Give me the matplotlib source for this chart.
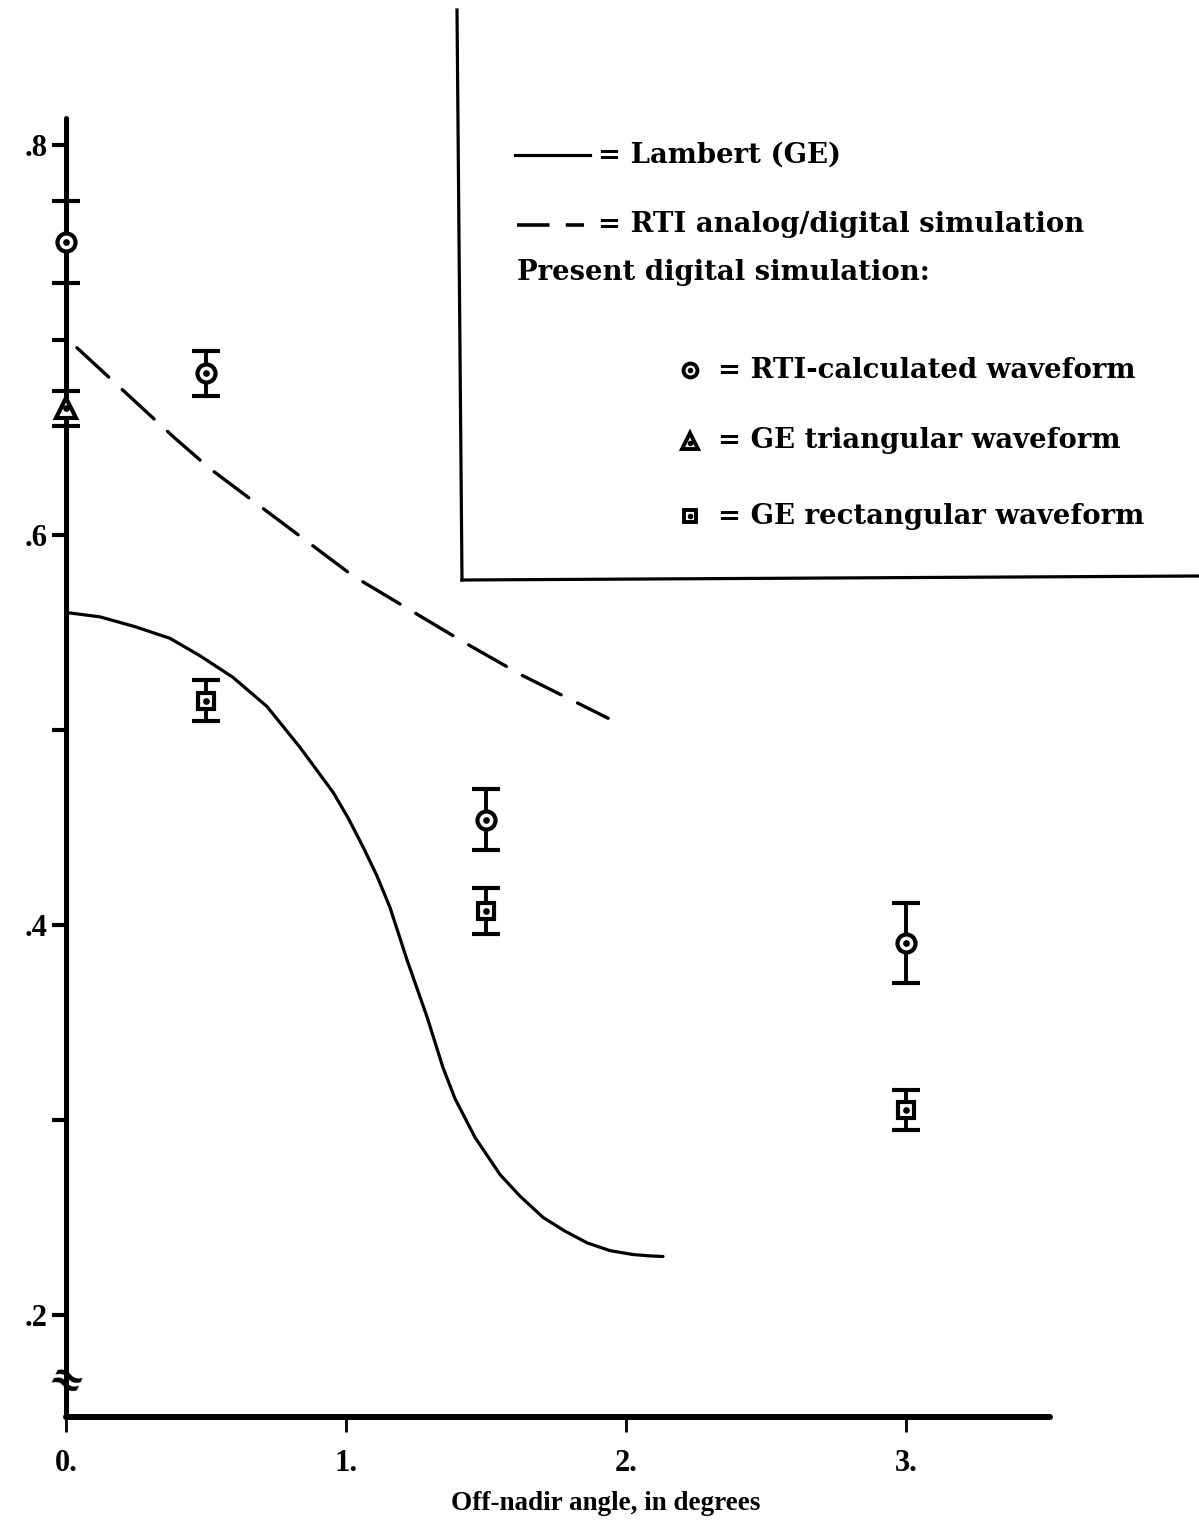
import numpy as np
import matplotlib
matplotlib.use("Agg")
import matplotlib.pyplot as plt
from matplotlib.lines import Line2D

# ---- data ---------------------------------------------------------------
lambert_x = [0.014, 0.121, 0.246, 0.371, 0.479, 0.596, 0.718, 0.836, 0.954,
             1.007, 1.061, 1.111, 1.157, 1.218, 1.289, 1.346, 1.389, 1.461,
             1.550, 1.621, 1.704, 1.782, 1.861, 1.943, 2.025, 2.086, 2.132]
lambert_y = [0.560, 0.558, 0.553, 0.547, 0.538, 0.527, 0.512, 0.491, 0.468,
             0.455, 0.440, 0.425, 0.409, 0.382, 0.353, 0.327, 0.311, 0.291,
             0.272, 0.261, 0.250, 0.243, 0.237, 0.233, 0.231, 0.2303, 0.230]

rti_sim_x = [0.039, 0.386, 0.514, 1.025, 1.421, 1.629, 1.936]
rti_sim_y = [0.696, 0.650, 0.634, 0.579, 0.545, 0.528, 0.506]

rti_calc_x = [0.0, 0.5, 1.5, 3.0]
rti_calc_y = [0.750, 0.683, 0.454, 0.391]
rti_calc_err = [0.021, 0.0115, 0.0155, 0.0205]

ge_tri_x = [0.0]
ge_tri_y = [0.665]
ge_tri_err = [0.009]

ge_rect_x = [0.5, 1.5, 3.0]
ge_rect_y = [0.515, 0.407, 0.305]
ge_rect_err = [0.0105, 0.0118, 0.0103]

y_ticks = [0.2, 0.3, 0.4, 0.5, 0.6, 0.7, 0.8]
y_ticklabels = [".2", "", ".4", "", ".6", "", ".8"]
x_ticks = [0, 1, 2, 3]
x_ticklabels = ["0.", "1.", "2.", "3."]

W, H = 1199, 1525
SERIF = "DejaVu Serif"
TICKFONT = "Liberation Serif"


def fx(px):
    return px / W


def fy(py):
    return 1 - py / H


fig = plt.figure(figsize=(W / 100, H / 100), dpi=100)
ax = fig.add_axes([fx(66), fy(1417), 984 / W, 1299 / H])
ax.set_xlim(0, 3.514)
ax.set_ylim(0.1477, 0.8138)

for s in ("top", "right"):
    ax.spines[s].set_visible(False)
ax.spines["left"].set_linewidth(3.6)
ax.spines["bottom"].set_linewidth(4.3)
ax.spines["left"].set_capstyle("round")
ax.spines["bottom"].set_capstyle("round")

ax.set_yticks(y_ticks)
ax.set_yticklabels(y_ticklabels, fontsize=22, fontweight="bold", family=TICKFONT)
ax.set_xticks(x_ticks)
ax.set_xticklabels(x_ticklabels, fontsize=22, fontweight="bold", family=TICKFONT)
ax.tick_params(axis="y", direction="out", length=10, width=3, pad=3)
ax.tick_params(axis="x", direction="out", length=11, width=2, pad=12)

ax.set_xlabel("Off-nadir angle, in degrees", fontsize=19.5, fontweight="bold",
              family=TICKFONT)
ax.xaxis.set_label_coords(540 / 984, -(1503 - 1417) / 1299)
ax.xaxis.label.set_va("center")

# curves
ax.plot(lambert_x, lambert_y, color="black", lw=2.3, solid_capstyle="round",
        solid_joinstyle="round", zorder=2)
ax.plot(rti_sim_x, rti_sim_y, color="black", lw=2.4, dashes=(13, 5.5),
        dash_capstyle="round", zorder=2)

# data points with error bars
eb_kw = dict(ls="none", color="black", ecolor="black", elinewidth=2.8,
             capsize=10, capthick=3.2, mfc="white", mec="black", mew=3.0,
             zorder=4, clip_on=False)
ax.errorbar(rti_calc_x, rti_calc_y, yerr=rti_calc_err, fmt="o", ms=13, **eb_kw)
ax.errorbar(ge_tri_x, ge_tri_y, yerr=ge_tri_err, fmt="^", ms=14, **eb_kw)
ax.errorbar(ge_rect_x, ge_rect_y, yerr=ge_rect_err, fmt="s", ms=11.5, **eb_kw)
# centre dots
ax.plot(rti_calc_x + ge_tri_x + ge_rect_x, rti_calc_y + ge_tri_y + ge_rect_y,
        ls="none", marker="o", ms=3.8, color="black", zorder=5, clip_on=False)

# axis break mark
ax.text(0, 0.1656, "≈", fontsize=30, fontweight="bold", ha="center",
        va="center", rotation=-25, family="DejaVu Sans", zorder=6)

# ---- legend box (drawn by hand, as in the original) ---------------------
fig.add_artist(Line2D([fx(457), fx(462)], [fy(10), fy(580)], color="black",
                      lw=2.3))
fig.add_artist(Line2D([fx(462), fx(1199)], [fy(580), fy(576)], color="black",
                      lw=2.3))

fig.add_artist(Line2D([fx(515), fx(590)], [fy(155), fy(155)], color="black",
                      lw=2.3))
fig.add_artist(Line2D([fx(517), fx(584)], [fy(225), fy(225)], color="black",
                      lw=2.6, dashes=(9, 4.5)))

mk_kw = dict(color="black", mfc="white", mec="black", ls="none")
fig.add_artist(Line2D([fx(690)], [fy(370)], marker="o", ms=10, mew=2.8, **mk_kw))
fig.add_artist(Line2D([fx(690)], [fy(441)], marker="^", ms=12, mew=2.8, **mk_kw))
fig.add_artist(Line2D([fx(690)], [fy(516)], marker="s", ms=9, mew=2.8, **mk_kw))
for py in (370, 443, 516):
    fig.add_artist(Line2D([fx(690)], [fy(py)], marker="o", ms=3, color="black",
                          ls="none"))

txt_kw = dict(fontsize=19.8, family=SERIF, fontweight="bold", va="center",
              ha="left")
fig.text(fx(598), fy(155), "= Lambert (GE)", **txt_kw)
fig.text(fx(598), fy(224), "= RTI analog/digital simulation", **txt_kw)
fig.text(fx(517), fy(272), "Present digital simulation:", **txt_kw)
fig.text(fx(718), fy(370), "= RTI-calculated waveform", **txt_kw)
fig.text(fx(718), fy(441), "= GE triangular waveform", **txt_kw)
fig.text(fx(718), fy(516), "= GE rectangular waveform", **txt_kw)

fig.savefig("out.png", dpi=100)
